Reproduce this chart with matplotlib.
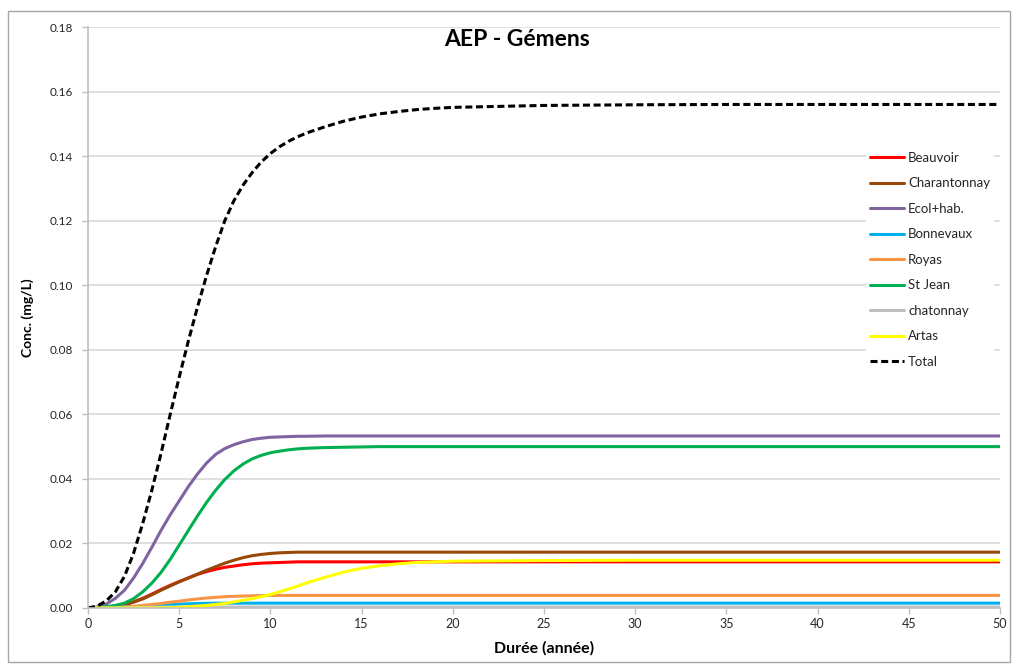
import matplotlib
matplotlib.use("Agg")
import matplotlib.pyplot as plt
from matplotlib.patches import Rectangle

plt.rcParams['font.family'] = ['Lato', 'DejaVu Sans']

# durée (année)
annees = [0, 0.5, 1, 1.5, 2, 2.5, 3, 3.5, 4, 4.5, 5, 5.5, 6, 6.5, 7, 7.5, 8, 8.5, 9, 9.5,
          10, 10.5, 11, 11.5, 12, 13, 14, 15, 16, 17, 18, 19, 20, 25, 30, 35, 40, 45, 50]

# concentrations (mg/L)
beauvoir = [0, 0.00005, 0.0002, 0.0005, 0.0011, 0.0019, 0.0030, 0.0043, 0.0057, 0.0070,
            0.0082, 0.0093, 0.0104, 0.0113, 0.0120, 0.0126, 0.0130, 0.0134, 0.0137, 0.0139,
            0.0140, 0.0141, 0.0142, 0.0143, 0.0143, 0.0143, 0.0143, 0.0143, 0.0143, 0.0143,
            0.0143, 0.0143, 0.0143, 0.0143, 0.0143, 0.0143, 0.0143, 0.0143, 0.0143]
charantonnay = [0, 0.00005, 0.0002, 0.0005, 0.0010, 0.0018, 0.0028, 0.0041, 0.0055, 0.0068,
                0.0081, 0.0093, 0.0105, 0.0117, 0.0128, 0.0139, 0.0148, 0.0156, 0.0162, 0.0166,
                0.0169, 0.0171, 0.0172, 0.0173, 0.0173, 0.0173, 0.0173, 0.0173, 0.0173, 0.0173,
                0.0173, 0.0173, 0.0173, 0.0173, 0.0173, 0.0173, 0.0173, 0.0173, 0.0173]
ecol_hab = [0, 0.0003, 0.0012, 0.0030, 0.0055, 0.0093, 0.0138, 0.0188, 0.0240, 0.0288,
            0.0332, 0.0376, 0.0415, 0.0449, 0.0476, 0.0494, 0.0506, 0.0515, 0.0522, 0.0526,
            0.0529, 0.0530, 0.0531, 0.0532, 0.0532, 0.0533, 0.0533, 0.0533, 0.0533, 0.0533,
            0.0533, 0.0533, 0.0533, 0.0533, 0.0533, 0.0533, 0.0533, 0.0533, 0.0533]
bonnevaux = [0, 0.00003, 0.0001, 0.0002, 0.0003, 0.00045, 0.0006, 0.00075, 0.0009, 0.00105,
             0.0012, 0.0013, 0.0014, 0.00145, 0.0015, 0.0015, 0.0015, 0.0015, 0.0015, 0.0015,
             0.0015, 0.0015, 0.0015, 0.0015, 0.0015, 0.0015, 0.0015, 0.0015, 0.0015, 0.0015,
             0.0015, 0.0015, 0.0015, 0.0015, 0.0015, 0.0015, 0.0015, 0.0015, 0.0015]
royas = [0, 0.00003, 0.0001, 0.0002, 0.0003, 0.0005, 0.0008, 0.0011, 0.0014, 0.0018,
         0.0021, 0.0025, 0.0028, 0.0031, 0.0033, 0.0035, 0.0036, 0.0037, 0.0038, 0.00385,
         0.0039, 0.0039, 0.0039, 0.0039, 0.0039, 0.0039, 0.0039, 0.0039, 0.0039, 0.0039,
         0.0039, 0.0039, 0.0039, 0.0039, 0.0039, 0.0039, 0.0039, 0.0039, 0.0039]
st_jean = [0, 0.0001, 0.0004, 0.0008, 0.0015, 0.0029, 0.0050, 0.0077, 0.0110, 0.0150,
           0.0195, 0.0240, 0.0285, 0.0327, 0.0365, 0.0398, 0.0425, 0.0446, 0.0462, 0.0473,
           0.0481, 0.0486, 0.0490, 0.0493, 0.0495, 0.0497, 0.0498, 0.0499, 0.0500, 0.0500,
           0.0500, 0.0500, 0.0500, 0.0500, 0.0500, 0.0500, 0.0500, 0.0500, 0.0500]
chatonnay = [0, 0.00001, 0.00003, 0.00006, 0.0001, 0.00015, 0.0002, 0.00023, 0.00025, 0.00028,
             0.0003, 0.0003, 0.0003, 0.0003, 0.0003, 0.0003, 0.0003, 0.0003, 0.0003, 0.0003,
             0.0003, 0.0003, 0.0003, 0.0003, 0.0003, 0.0003, 0.0003, 0.0003, 0.0003, 0.0003,
             0.0003, 0.0003, 0.0003, 0.0003, 0.0003, 0.0003, 0.0003, 0.0003, 0.0003]
artas = [0, 0, 0, 0, 0, 0, 0, 0, 0.00005, 0.0001,
         0.0002, 0.0004, 0.0006, 0.0008, 0.0011, 0.0014, 0.0019, 0.0024, 0.0029, 0.0035,
         0.0042, 0.0050, 0.0059, 0.0068, 0.0078, 0.0095, 0.0111, 0.0123, 0.0131, 0.0137,
         0.0141, 0.0143, 0.0145, 0.0147, 0.0148, 0.0148, 0.0148, 0.0148, 0.0148]
total = [0, 0.0006, 0.0022, 0.0050, 0.0098, 0.0170, 0.0262, 0.0365, 0.0478, 0.0598,
         0.0715, 0.0827, 0.0932, 0.1030, 0.1120, 0.1200, 0.1262, 0.1310, 0.1349, 0.1382,
         0.1408, 0.1429, 0.1446, 0.1460, 0.1472, 0.1491, 0.1508, 0.1521, 0.1531, 0.1538,
         0.1544, 0.1548, 0.1551, 0.1557, 0.1559, 0.1560, 0.1560, 0.1560, 0.1560]

series = [
    ("Beauvoir", beauvoir, "#FF0000"),
    ("Charantonnay", charantonnay, "#984807"),
    ("Ecol+hab.", ecol_hab, "#8064A2"),
    ("Bonnevaux", bonnevaux, "#00B0F0"),
    ("Royas", royas, "#F79646"),
    ("St Jean", st_jean, "#00B050"),
    ("chatonnay", chatonnay, "#BFBFBF"),
    ("Artas", artas, "#FFFF00"),
]

fig = plt.figure(figsize=(10.16, 6.71), dpi=100)
# cadre du graphique
fig.patches.append(Rectangle((8 / 1016, 1 - 662 / 671), 1002 / 1016, 651 / 671,
                             transform=fig.transFigure, fill=False,
                             edgecolor="#A6A6A6", linewidth=1.0))

ax = fig.add_axes([88 / 1016, 1 - 608 / 671, 912 / 1016, 581 / 671])

for nom, vals, couleur in series:
    ax.plot(annees, vals, color=couleur, linewidth=2.2, label=nom, solid_capstyle="round")
ax.plot(annees, total, color="black", linewidth=2.2, linestyle=(0, (2.3, 1.2)), label="Total")

ax.set_xlim(0, 50)
ax.set_ylim(0, 0.18)
ax.set_xticks(range(0, 51, 5))
ax.set_yticks([i * 0.02 for i in range(10)])
ax.set_yticklabels(["%.2f" % (i * 0.02) for i in range(10)])
ax.yaxis.grid(True, color="#D9D9D9", linewidth=1.2)
ax.set_axisbelow(True)
for s in ["top", "right"]:
    ax.spines[s].set_visible(False)
for s in ["left", "bottom"]:
    ax.spines[s].set_color("#BFBFBF")
    ax.spines[s].set_linewidth(1.2)
ax.tick_params(axis="y", length=4, color="#BFBFBF", width=1, pad=7, labelsize=8.5, labelcolor="#262626")
ax.tick_params(axis="x", length=4, color="#BFBFBF", width=1, pad=3, labelsize=9, labelcolor="#262626")

ax.set_xlabel("Durée (année)", fontsize=11.5, fontweight="bold", labelpad=8)
ax.set_ylabel("Conc. (mg/L)", fontsize=10, fontweight="bold", labelpad=11)

fig.text(517 / 1016, 1 - 40 / 671, "AEP - Gémens", ha="center", va="center",
         fontsize=16.5, fontweight="bold")

leg = ax.legend(loc="upper left", bbox_to_anchor=(866 / 1016, 1 - 148 / 671),
                bbox_transform=fig.transFigure, fontsize=9.5, frameon=True,
                fancybox=False, edgecolor="none", facecolor="white", framealpha=1,
                handlelength=2.6, handletextpad=0.3, labelspacing=1.02,
                borderpad=0.3, borderaxespad=0)
for t in leg.get_texts():
    t.set_color("#262626")

fig.savefig("out.png", dpi=100)
